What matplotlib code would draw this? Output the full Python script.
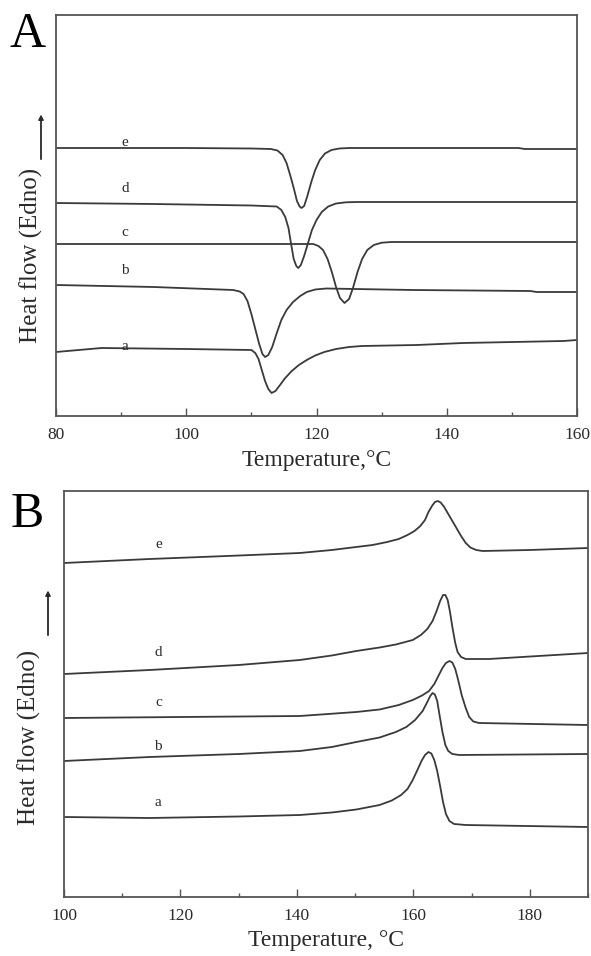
import matplotlib
matplotlib.use("Agg")
import matplotlib.pyplot as plt
from matplotlib.ticker import MultipleLocator

plt.rcParams['font.family'] = ['Liberation Serif', 'DejaVu Serif']

# ---- Panel A data (temperature in C, heat flow in arbitrary units) ----
a_T = [80, 87, 100, 110, 110.6, 111.1, 111.6, 112.1, 112.6, 113.1, 113.7, 114.4, 115.2, 116.2, 117.3,
       118.5, 119.8, 121.2, 123, 125, 127, 135.4, 142.5, 157.9, 160]
a_H = [64, 68, 67, 66, 63, 57, 46, 35, 27, 23, 25, 31, 38, 45, 51,
       56, 60.5, 64, 67, 69, 70, 71, 73, 75, 76]

b_T = [80, 95, 107.2, 108.2, 108.8, 109.4, 110, 110.6, 111.2, 111.7, 112.1, 112.6, 113.2, 113.9, 114.6,
       115.4, 116.4, 117.5, 118.5, 119.8, 121.5, 134.8, 152.8, 153.8, 160]
b_H = [131, 129, 126, 124.5, 122, 115, 102, 87, 72, 62, 59, 61, 69, 83, 96,
       106, 114, 120, 124, 126.5, 127.5, 126, 125, 124, 124]

c_T = [80, 100, 119.5, 120.3, 121, 121.7, 122.4, 123, 123.6, 124.3, 125, 125.6, 126.3, 127, 127.8,
       128.8, 130, 131.5, 140, 160]
c_H = [172, 172, 172, 170, 166, 157, 143, 129, 118, 113, 117, 128, 144, 157, 166,
       171, 173.3, 174, 174, 174]

d_T = [80, 95, 110, 113.9, 114.6, 115.2, 115.7, 116.1, 116.5, 116.9, 117.2, 117.6, 118.1, 118.7, 119.3,
       120, 120.8, 121.8, 123, 124.5, 126.2, 140, 160]
d_H = [213, 212, 210.5, 209.5, 206, 199, 188, 172, 157, 150, 148, 151, 160, 173, 186,
       196, 204, 209.5, 212.5, 213.7, 214, 214, 214]

e_T = [80, 100, 110, 113, 114, 114.8, 115.4, 116, 116.5, 117, 117.4, 117.7, 118.1, 118.6, 119.2,
       119.8, 120.5, 121.3, 122.3, 123.5, 125, 130, 140, 151, 152, 160]
e_H = [268, 268, 267.5, 267, 265.5, 261, 253, 240, 228, 215, 209.5, 208, 210, 220, 234,
       246, 256, 262.5, 266, 267.5, 268, 268, 268, 268, 267, 267]

# ---- Panel B data ----
Ba_T = [100, 114.7, 130, 140.5, 146, 150.2, 154.2, 156.3, 157.9, 159, 159.9, 160.7, 161.4, 162, 162.6,
        163.1, 163.6, 164.1, 164.6, 165.1, 165.6, 166.2, 167, 169, 190]
Ba_H = [80, 79, 80.5, 82, 84.5, 87.5, 92, 96.5, 102, 108, 117, 127, 136, 142, 145,
        143.5, 137, 126, 111, 95, 83, 76, 73, 72, 70]

Bb_T = [100, 114.7, 130, 140.5, 146, 150.2, 154.2, 157, 158.8, 160.3, 161.6, 162.4, 162.9, 163.3, 163.7,
        164.1, 164.5, 165, 165.5, 166, 166.7, 167.9, 190]
Bb_H = [136, 140, 143, 146, 150, 155, 159.5, 165, 170, 177, 186, 195, 201, 204, 202.5,
        196, 182, 165, 152, 146, 143, 142, 143]

Bc_T = [100, 140.5, 150.2, 154.2, 157.5, 159.9, 161.5, 162.7, 163.6, 164.3, 165, 165.6, 166.2, 166.7, 167.2,
        167.7, 168.3, 169, 169.6, 170.3, 171.3, 190]
Bc_H = [179, 181, 185, 187.5, 192, 197, 201.5, 206, 213, 221, 229, 234, 236, 234.5, 228,
        217, 202, 189, 180, 175.5, 174, 172]

Bd_T = [100, 114.7, 130, 140.5, 146, 150.2, 154.2, 157, 159.9, 161.3, 162.4, 163.3, 164, 164.6, 165.1,
        165.5, 165.9, 166.3, 166.7, 167.2, 167.6, 168.2, 169, 173, 190]
Bd_H = [223, 227, 232, 237, 241.5, 246, 249.5, 252.5, 257, 262, 268, 276, 286, 296, 302,
        302, 297, 285, 270, 254, 245, 240, 238, 238, 244]

Be_T = [100, 114.7, 128, 140.5, 146, 150.2, 153, 155.5, 157.5, 159, 160.2, 161.2, 162, 162.6, 163.2,
        163.7, 164.2, 164.7, 165.3, 166.2, 167.3, 168.2, 169, 169.8, 170.8, 171.9, 180, 190]
Be_H = [334, 338, 341, 344, 347, 350, 352, 355, 358, 362, 366, 371, 377, 385, 391,
        395, 396, 394.5, 390, 381, 370, 361, 354, 349.5, 347, 346, 347, 349]

labels = ['a', 'b', 'c', 'd', 'e']
A_label_y = [69, 145, 184, 228, 274]
B_label_y = [95, 151, 195, 244, 353]

line_col = '#3a3a3a'
spine_col = '#555555'
text_col = '#2a2a2a'

fig = plt.figure(figsize=(5.91, 9.56), dpi=100)
axA = fig.add_axes([56 / 591, 1 - 416 / 956, 521 / 591, 401 / 956])
axB = fig.add_axes([64 / 591, 1 - 897 / 956, 524 / 591, 406 / 956])


def style(ax, xmin, xmax, ymax):
    ax.set_xlim(xmin, xmax)
    ax.set_ylim(0, ymax)
    ax.set_yticks([])
    ax.xaxis.set_major_locator(MultipleLocator(20))
    ax.xaxis.set_minor_locator(MultipleLocator(10))
    ax.tick_params(axis='x', which='major', direction='in', length=6, width=1,
                   color=spine_col, labelsize=12.5, labelcolor=text_col, pad=8)
    ax.tick_params(axis='x', which='minor', direction='in', length=3, width=1, color=spine_col)
    for s in ax.spines.values():
        s.set_color(spine_col)
        s.set_linewidth(1.3)


style(axA, 80, 160, 401)
for T, H in [(a_T, a_H), (b_T, b_H), (c_T, c_H), (d_T, d_H), (e_T, e_H)]:
    axA.plot(T, H, color=line_col, lw=1.3)
for lab, y in zip(labels, A_label_y):
    axA.text(90.6, y, lab, fontsize=11, color=text_col, ha='center', va='center')
axA.set_xlabel('Temperature,°C', fontsize=17, color=text_col, labelpad=5)

style(axB, 100, 190, 406)
for T, H in [(Ba_T, Ba_H), (Bb_T, Bb_H), (Bc_T, Bc_H), (Bd_T, Bd_H), (Be_T, Be_H)]:
    axB.plot(T, H, color=line_col, lw=1.3)
for lab, y in zip(labels, B_label_y):
    axB.text(116.2, y, lab, fontsize=11, color=text_col, ha='center', va='center')
axB.set_xlabel('Temperature, °C', fontsize=17, color=text_col, labelpad=4)

# y labels, arrows and panel letters
fig.text(31 / 591, 1 - 255 / 956, 'Heat flow (Edno)', rotation=90, fontsize=18,
         color=text_col, ha='center', va='center')
fig.text(29 / 591, 1 - 737 / 956, 'Heat flow (Edno)', rotation=90, fontsize=18,
         color=text_col, ha='center', va='center')
for x, y0, y1 in [(41, 162, 112), (48, 638, 588)]:
    fig.add_artist(plt.annotate('', xy=(x, 956 - y1), xytext=(x, 956 - y0),
                                xycoords='figure pixels', textcoords='figure pixels',
                                arrowprops=dict(arrowstyle='-|>', color=text_col, lw=1,
                                                mutation_scale=7)))
fig.text(28 / 591, 1 - 47 / 956, 'A', fontsize=36, color='black', ha='center', va='baseline')
fig.text(27 / 591, 1 - 527 / 956, 'B', fontsize=36, color='black', ha='center', va='baseline')

fig.savefig('out.png', dpi=100)
